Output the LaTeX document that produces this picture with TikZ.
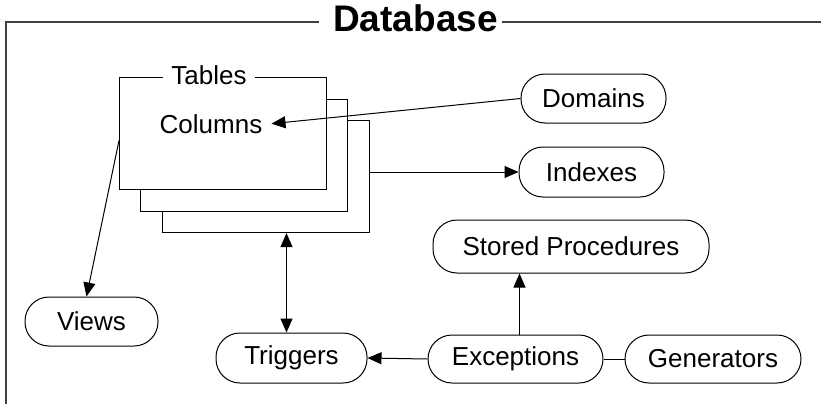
\documentclass[tikz,border=0pt]{standalone}
\usepackage{fontspec}
\setmainfont{Liberation Sans}
\usetikzlibrary{arrows.meta}
\begin{document}
\begin{tikzpicture}[x=1pt,y=-1pt,
  pill/.style={draw, rounded corners=24pt, inner sep=0pt, line width=1pt,
    font=\fontsize{26}{31}\selectfont},
  tbl/.style={draw, fill=white, line width=1.1pt, minimum width=207pt,
    minimum height=112pt, inner sep=0pt, anchor=north west},
  conn/.style={line width=1pt, -{Triangle[length=14pt,width=12pt]}},
  lbl/.style={font=\fontsize{26}{31}\selectfont, inner sep=0pt}]
\useasboundingbox (0,0) rectangle (821,404);
% outer frame
\draw[line width=1.5pt, black!75] (6,404) -- (6,22) -- (319,22);
\draw[line width=1.5pt, black!75] (502,22) -- (821,22);
\node[font=\bfseries\fontsize{37}{42}\selectfont, inner sep=0pt, anchor=base] (db) at (415.5,32) {Database};
% table stack
\node[tbl] (t3) at (162,120) {};
\node[tbl] (t2) at (140,99) {};
\node[tbl] (t1) at (119,77) {};
\node[lbl, fill=white, inner xsep=8pt, anchor=base] (tables) at (209,84) {Tables};
\node[lbl, inner xsep=9pt, anchor=base] (columns) at (211,133) {Columns};
% pills
\node[pill, minimum width=133pt, minimum height=49pt] (views) at (91.5,321.5) {Views};
\node[pill, minimum width=151pt, minimum height=50pt] (triggers) at (291.5,358) {Triggers};
\node[pill, minimum width=175pt, minimum height=48pt] (exceptions) at (515.5,359) {Exceptions};
\node[pill, minimum width=176pt, minimum height=48pt] (generators) at (713,359) {Generators};
\node[pill, minimum width=276pt, minimum height=53pt] (stored) at (571,246.5) {Stored Procedures};
\node[pill, minimum width=145pt, minimum height=49pt] (domains) at (593.5,98.5) {Domains};
\node[pill, minimum width=145pt, minimum height=50pt] (indexes) at (591.5,172) {Indexes};
% connectors
\draw[conn] (domains.west) -- (columns.east);
\draw[conn] (t3.east |- indexes.west) -- (indexes.west);
\draw[conn, {Triangle[length=14pt,width=12pt]}-{Triangle[length=14pt,width=12pt]}]
  ([xshift=-5pt]triggers.north |- t3.south) -- ([xshift=-5pt]triggers.north);
\draw[conn] ([yshift=-7pt]t1.west) -- ([xshift=-5pt]views.north);
\draw[conn] (exceptions.west) -- (triggers.east);
\draw[conn] ([xshift=4pt]exceptions.north) -- ([xshift=4pt]exceptions.north |- stored.south);
\draw[line width=1pt] (exceptions.east) -- (generators.west);
\end{tikzpicture}
\end{document}
